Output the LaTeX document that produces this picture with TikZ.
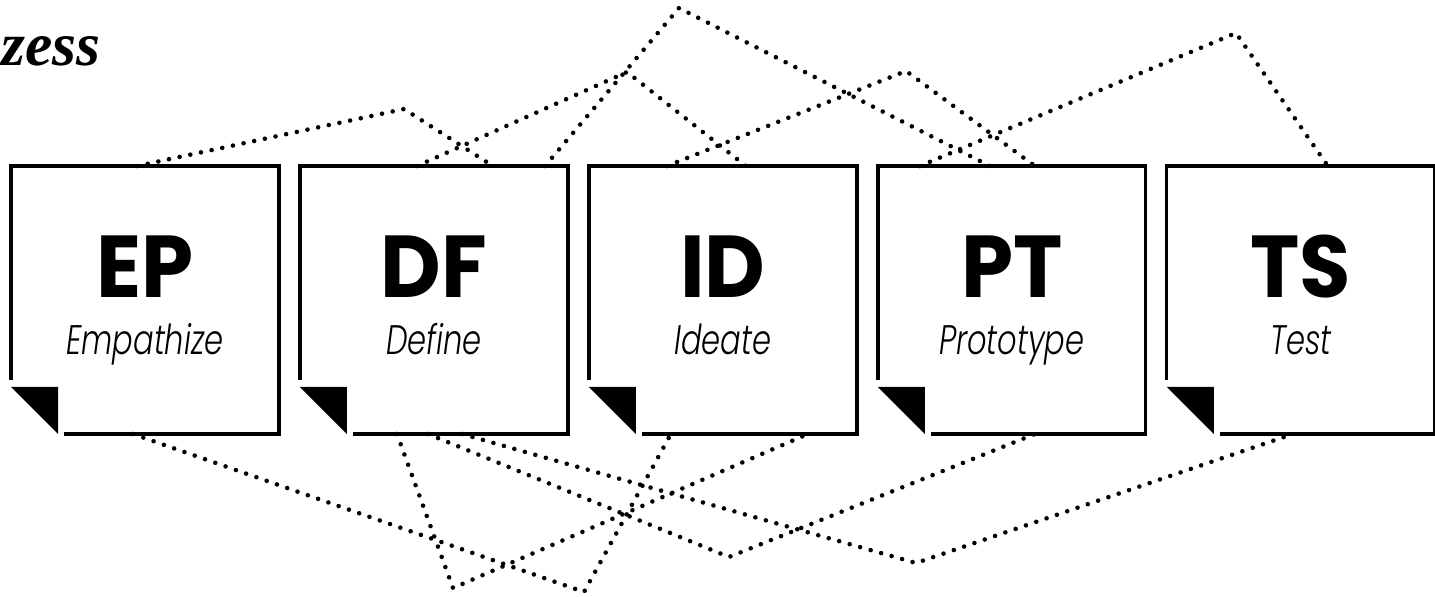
\documentclass[tikz,border=0pt]{standalone}
\usepackage{fontspec}
\setmainfont{Liberation Serif}
\newfontfamily\capsfont{Poppins}[FakeStretch=0.95]
\newfontfamily\wordfont{Poppins}[UprightFont=* Light, ItalicFont=* Light Italic, FakeStretch=0.74]
\usepackage{tikz}
\usetikzlibrary{calc,positioning}

\tikzset{
	card/.style={minimum width=5.36cm, minimum height=5.36cm, inner sep=0pt, outer sep=0pt},
	cardline/.style={line width=1.9pt},
	dotline/.style={line width=2.6pt, line cap=round, dash pattern=on 0pt off 6.2pt},
	abbr/.style={font=\capsfont\bfseries\fontsize{50}{50}\selectfont, anchor=base, inner sep=0pt},
	word/.style={font=\wordfont\itshape\fontsize{23.5}{23.5}\selectfont, anchor=base, inner sep=0pt}
}

\begin{document}
\begin{tikzpicture}[x=0.02cm, y=-0.02cm]
	\useasboundingbox (0,0) rectangle (1435,596);
	\node[anchor=base west, inner sep=0pt, font=\bfseries\itshape\fontsize{35}{35}\selectfont] (title) at (1,65) {zess};
	\node[card] (b0) at (145,300) {};
	\foreach \i [count=\j from 0] in {1,...,4}
		\node[card, right=0.42cm of b\j] (b\i) {};
	\foreach \i/\t/\w in {0/EP/Empathize,1/DF/Define,2/ID/Ideate,3/PT/Prototype,4/TS/Test}
	{
		\draw[cardline] ($(b\i.south west)+(0,-54)$) |- (b\i.north east) |- ($(b\i.south west)+(53,0)$);
		\fill ($(b\i.south west)+(0,-47)$) -- ++(47,0) -- ++(0,47) -- cycle;
		\node[abbr] (ab\i) at ($(b\i.north)+(0,131)$) {\t};
		\node[word] (wd\i) at ($(b\i.north)+(0,188)$) {\w};
	}
	\foreach \s/\a/\px/\py/\e/\b in {0/126/404/109/1/193, 1/117/627/72/2/157, 1/245/679/8/3/112, 2/78/906/71/3/157, 3/42/1236/33/4/161}
		\draw[dotline] ($(b\s.north west)+(\a,0)$) -- (\px,\py) -- ($(b\e.north west)+(\b,0)$);
	\foreach \s/\a/\px/\py/\e/\b in {0/122/584/592/2/82, 1/97/453/588/2/219, 1/128/729/557/3/157, 1/162/916/563/4/126}
		\draw[dotline] ($(b\s.south west)+(\a,0)$) -- (\px,\py) -- ($(b\e.south west)+(\b,0)$);
\end{tikzpicture}
\end{document}
